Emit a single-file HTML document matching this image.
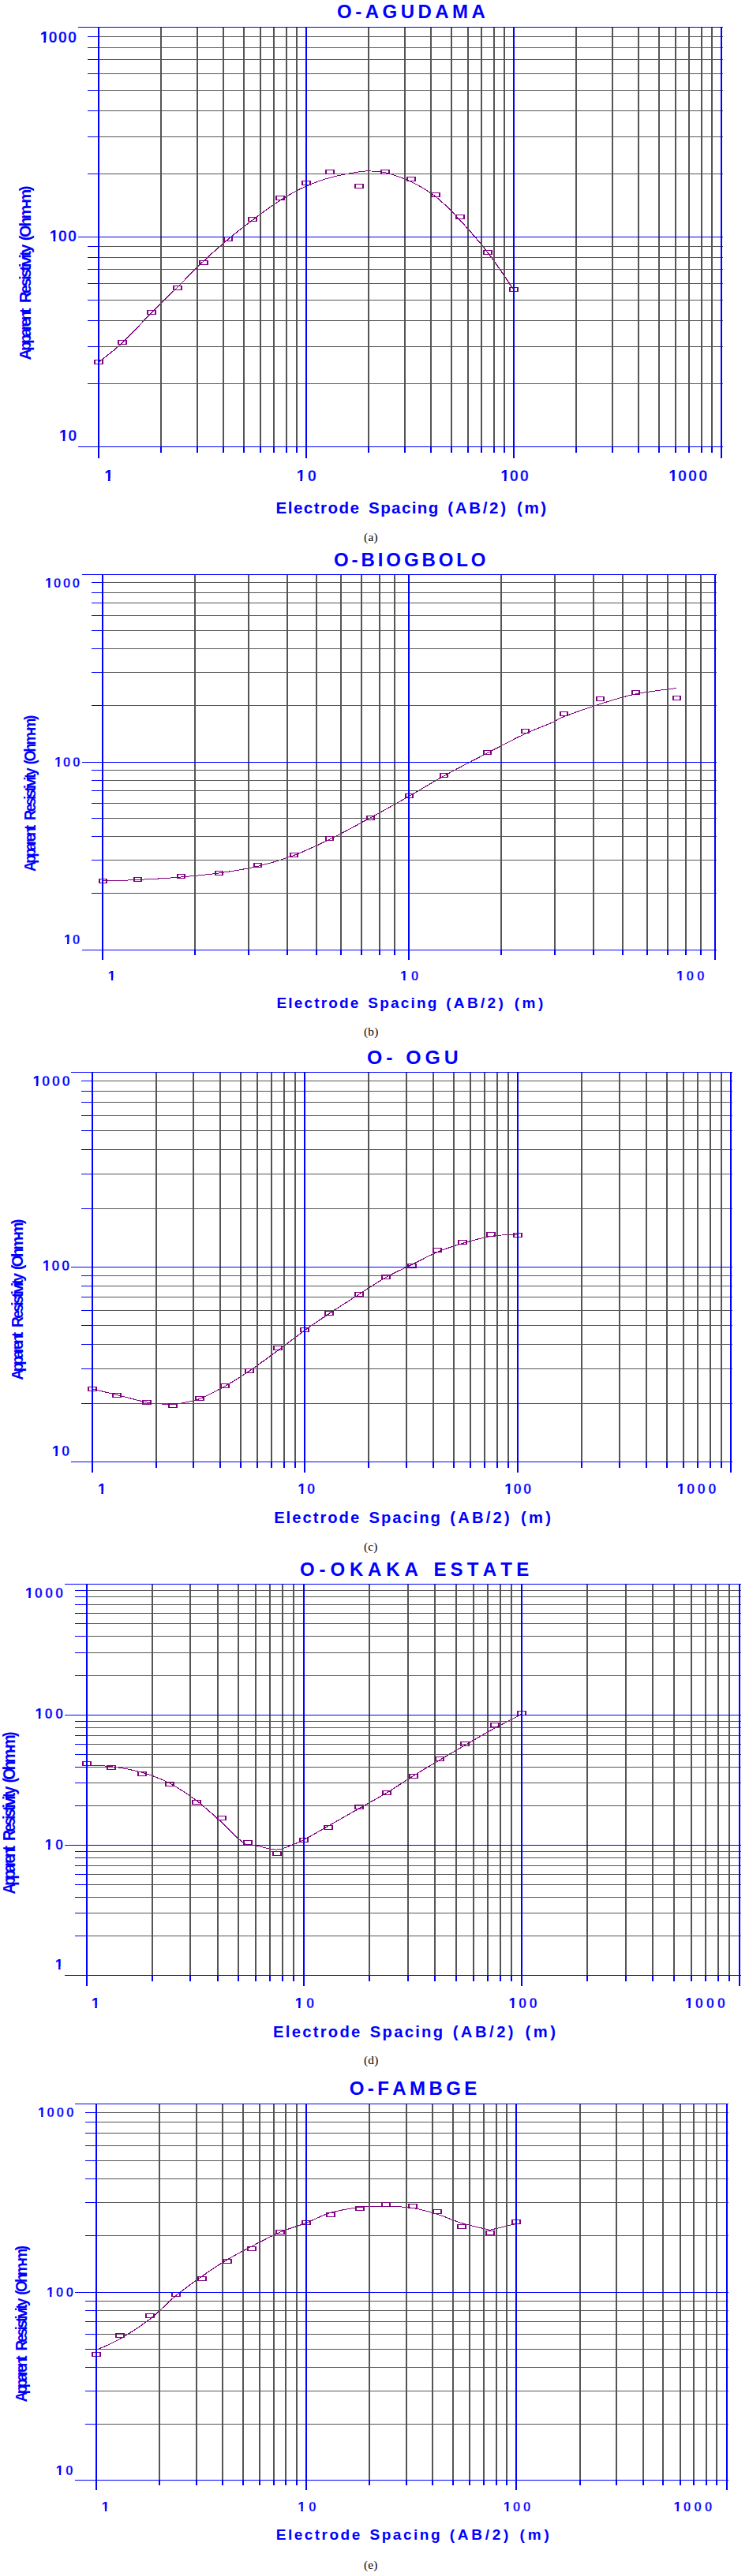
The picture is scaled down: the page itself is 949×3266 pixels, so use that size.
<!DOCTYPE html>
<html><head><meta charset="utf-8"><title>VES curves</title>
<style>
html,body{margin:0;padding:0;background:#fff}
svg{display:block}
text{font-kerning:none;white-space:pre}
.b{font-family:"Liberation Sans",Arial,sans-serif;font-weight:bold;fill:#0000ff}
.t{stroke:#fff;stroke-width:0.3px}
.o{stroke:#00f;stroke-width:0.05px}
.s{font-family:"Liberation Serif","Times New Roman",serif;fill:#000}
rect{shape-rendering:crispEdges}
</style></head><body>
<svg width="949" height="3266" viewBox="0 0 949 3266">
<rect x="0" y="0" width="949" height="3266" fill="#fff"/>
<g><path transform="scale(1.5 1)" d="M83.33 459.5C86.67 455.33 95.89 445 103.33 434.5C110.78 424 120.22 408.25 128 396.5C135.78 384.75 142.67 374.92 150 364C157.33 353.08 164.83 341.17 172 331C179.17 320.83 186.11 311.67 193 303C199.89 294.33 206.06 287.17 213.33 279C220.61 270.83 229.11 261.17 236.67 254C244.22 246.83 251.44 240.87 258.67 236C265.89 231.13 272.56 227.83 280 224.8C287.44 221.77 297.78 219.1 303.33 217.8C308.89 216.5 309.67 216.83 313.33 217C317 217.17 319.78 216.63 325.33 218.8C330.89 220.97 339.56 224.92 346.67 230C353.78 235.08 361.03 241.13 368 249.3C374.97 257.47 381.13 267.18 388.47 279C395.8 290.82 404.41 305.47 412 320.2C419.59 334.93 430.33 359.53 434 367.4" fill="none" stroke="#800080" stroke-width="1" shape-rendering="crispEdges"/>
<rect x="203" y="34" width="2" height="533" fill="#555555"/>
<rect x="203" y="567" width="2" height="7" fill="#0000ff"/>
<rect x="249" y="34" width="2" height="533" fill="#555555"/>
<rect x="249" y="567" width="2" height="7" fill="#0000ff"/>
<rect x="282" y="34" width="2" height="533" fill="#555555"/>
<rect x="282" y="567" width="2" height="7" fill="#0000ff"/>
<rect x="308" y="34" width="2" height="533" fill="#555555"/>
<rect x="308" y="567" width="2" height="7" fill="#0000ff"/>
<rect x="329" y="34" width="2" height="533" fill="#555555"/>
<rect x="329" y="567" width="2" height="7" fill="#0000ff"/>
<rect x="346" y="34" width="2" height="533" fill="#555555"/>
<rect x="346" y="567" width="2" height="7" fill="#0000ff"/>
<rect x="362" y="34" width="2" height="533" fill="#555555"/>
<rect x="362" y="567" width="2" height="7" fill="#0000ff"/>
<rect x="375" y="34" width="2" height="533" fill="#555555"/>
<rect x="375" y="567" width="2" height="7" fill="#0000ff"/>
<rect x="466" y="34" width="2" height="533" fill="#555555"/>
<rect x="466" y="567" width="2" height="7" fill="#0000ff"/>
<rect x="512" y="34" width="2" height="533" fill="#555555"/>
<rect x="512" y="567" width="2" height="7" fill="#0000ff"/>
<rect x="545" y="34" width="2" height="533" fill="#555555"/>
<rect x="545" y="567" width="2" height="7" fill="#0000ff"/>
<rect x="571" y="34" width="2" height="533" fill="#555555"/>
<rect x="571" y="567" width="2" height="7" fill="#0000ff"/>
<rect x="592" y="34" width="2" height="533" fill="#555555"/>
<rect x="592" y="567" width="2" height="7" fill="#0000ff"/>
<rect x="609" y="34" width="2" height="533" fill="#555555"/>
<rect x="609" y="567" width="2" height="7" fill="#0000ff"/>
<rect x="625" y="34" width="2" height="533" fill="#555555"/>
<rect x="625" y="567" width="2" height="7" fill="#0000ff"/>
<rect x="638" y="34" width="2" height="533" fill="#555555"/>
<rect x="638" y="567" width="2" height="7" fill="#0000ff"/>
<rect x="729" y="34" width="2" height="533" fill="#555555"/>
<rect x="729" y="567" width="2" height="7" fill="#0000ff"/>
<rect x="775" y="34" width="2" height="533" fill="#555555"/>
<rect x="775" y="567" width="2" height="7" fill="#0000ff"/>
<rect x="808" y="34" width="2" height="533" fill="#555555"/>
<rect x="808" y="567" width="2" height="7" fill="#0000ff"/>
<rect x="834" y="34" width="2" height="533" fill="#555555"/>
<rect x="834" y="567" width="2" height="7" fill="#0000ff"/>
<rect x="855" y="34" width="2" height="533" fill="#555555"/>
<rect x="855" y="567" width="2" height="7" fill="#0000ff"/>
<rect x="872" y="34" width="2" height="533" fill="#555555"/>
<rect x="872" y="567" width="2" height="7" fill="#0000ff"/>
<rect x="888" y="34" width="2" height="533" fill="#555555"/>
<rect x="888" y="567" width="2" height="7" fill="#0000ff"/>
<rect x="901" y="34" width="2" height="533" fill="#555555"/>
<rect x="901" y="567" width="2" height="7" fill="#0000ff"/>
<rect x="125" y="220" width="791" height="1" fill="#555555"/>
<rect x="111" y="220" width="14" height="1" fill="#0000ff"/>
<rect x="125" y="173" width="791" height="1" fill="#555555"/>
<rect x="111" y="173" width="14" height="1" fill="#0000ff"/>
<rect x="125" y="140" width="791" height="1" fill="#555555"/>
<rect x="111" y="140" width="14" height="1" fill="#0000ff"/>
<rect x="125" y="114" width="791" height="1" fill="#555555"/>
<rect x="111" y="114" width="14" height="1" fill="#0000ff"/>
<rect x="125" y="93" width="791" height="1" fill="#555555"/>
<rect x="111" y="93" width="14" height="1" fill="#0000ff"/>
<rect x="125" y="75" width="791" height="1" fill="#555555"/>
<rect x="111" y="75" width="14" height="1" fill="#0000ff"/>
<rect x="125" y="60" width="791" height="1" fill="#555555"/>
<rect x="111" y="60" width="14" height="1" fill="#0000ff"/>
<rect x="125" y="46" width="791" height="1" fill="#555555"/>
<rect x="111" y="46" width="14" height="1" fill="#0000ff"/>
<rect x="125" y="486" width="791" height="1" fill="#555555"/>
<rect x="111" y="486" width="14" height="1" fill="#0000ff"/>
<rect x="125" y="439" width="791" height="1" fill="#555555"/>
<rect x="111" y="439" width="14" height="1" fill="#0000ff"/>
<rect x="125" y="406" width="791" height="1" fill="#555555"/>
<rect x="111" y="406" width="14" height="1" fill="#0000ff"/>
<rect x="125" y="380" width="791" height="1" fill="#555555"/>
<rect x="111" y="380" width="14" height="1" fill="#0000ff"/>
<rect x="125" y="359" width="791" height="1" fill="#555555"/>
<rect x="111" y="359" width="14" height="1" fill="#0000ff"/>
<rect x="125" y="341" width="791" height="1" fill="#555555"/>
<rect x="111" y="341" width="14" height="1" fill="#0000ff"/>
<rect x="125" y="326" width="791" height="1" fill="#555555"/>
<rect x="111" y="326" width="14" height="1" fill="#0000ff"/>
<rect x="125" y="312" width="791" height="1" fill="#555555"/>
<rect x="111" y="312" width="14" height="1" fill="#0000ff"/>
<path d="M119 456h12v6h-12zM121 457v4h8v-4z" fill="#800080" fill-rule="evenodd" shape-rendering="crispEdges"/>
<path d="M149 431h12v6h-12zM151 432v4h8v-4z" fill="#800080" fill-rule="evenodd" shape-rendering="crispEdges"/>
<path d="M186 393h12v6h-12zM188 394v4h8v-4z" fill="#800080" fill-rule="evenodd" shape-rendering="crispEdges"/>
<path d="M219 362h12v6h-12zM221 363v4h8v-4z" fill="#800080" fill-rule="evenodd" shape-rendering="crispEdges"/>
<path d="M252 330h12v6h-12zM254 331v4h8v-4z" fill="#800080" fill-rule="evenodd" shape-rendering="crispEdges"/>
<path d="M283 300h12v6h-12zM285 301v4h8v-4z" fill="#800080" fill-rule="evenodd" shape-rendering="crispEdges"/>
<path d="M314 275h12v6h-12zM316 276v4h8v-4z" fill="#800080" fill-rule="evenodd" shape-rendering="crispEdges"/>
<path d="M349 248h12v6h-12zM351 249v4h8v-4z" fill="#800080" fill-rule="evenodd" shape-rendering="crispEdges"/>
<path d="M382 229h12v6h-12zM384 230v4h8v-4z" fill="#800080" fill-rule="evenodd" shape-rendering="crispEdges"/>
<path d="M412 215h12v6h-12zM414 216v4h8v-4z" fill="#800080" fill-rule="evenodd" shape-rendering="crispEdges"/>
<path d="M449 233h12v6h-12zM451 234v4h8v-4z" fill="#800080" fill-rule="evenodd" shape-rendering="crispEdges"/>
<path d="M482 215h12v6h-12zM484 216v4h8v-4z" fill="#800080" fill-rule="evenodd" shape-rendering="crispEdges"/>
<path d="M515 224h12v6h-12zM517 225v4h8v-4z" fill="#800080" fill-rule="evenodd" shape-rendering="crispEdges"/>
<path d="M546 244h12v6h-12zM548 245v4h8v-4z" fill="#800080" fill-rule="evenodd" shape-rendering="crispEdges"/>
<path d="M577 272h12v6h-12zM579 273v4h8v-4z" fill="#800080" fill-rule="evenodd" shape-rendering="crispEdges"/>
<path d="M612 317h12v6h-12zM614 318v4h8v-4z" fill="#800080" fill-rule="evenodd" shape-rendering="crispEdges"/>
<path d="M645 364h12v6h-12zM647 365v4h8v-4z" fill="#800080" fill-rule="evenodd" shape-rendering="crispEdges"/>
<rect x="99" y="34" width="817" height="1" fill="#0000ff"/>
<rect x="99" y="300" width="817" height="1" fill="#0000ff"/>
<rect x="99" y="566" width="817" height="1" fill="#0000ff"/>
<rect x="124" y="34" width="2" height="547" fill="#0000ff"/>
<rect x="387" y="34" width="2" height="547" fill="#0000ff"/>
<rect x="650" y="34" width="2" height="547" fill="#0000ff"/>
<rect x="913" y="34" width="2" height="547" fill="#0000ff"/>
<text class="b" x="427.02" y="23.4" font-size="24" letter-spacing="4.49">O-AGUDAMA</text>
<clipPath id="ka106"><path d="M47.27 34H100.3V57H62.2V50.66H58.04V57H55.3V50.66H47.27z"/></clipPath>
<text class="b" clip-path="url(#ka106)" x="49.27" y="54" dx="1.37 -1.37" font-size="20" letter-spacing="1.12"><tspan class="o">1</tspan><tspan class="t">000</tspan></text>
<clipPath id="ka108"><path d="M59.47 285.5H100.3V308.5H74.4V302.16H70.24V308.5H67.5V302.16H59.47z"/></clipPath>
<text class="b" clip-path="url(#ka108)" x="61.47" y="305.5" dx="1.37 -1.37" font-size="20" letter-spacing="1.14"><tspan class="o">1</tspan><tspan class="t">00</tspan></text>
<clipPath id="ka110"><path d="M71.57 538.7H100.6V561.7H86.54V555.36H82.34V561.7H79.6V555.36H71.57z"/></clipPath>
<text class="b" clip-path="url(#ka110)" x="73.57" y="558.7" dx="1.37 -1.37" font-size="20" letter-spacing="1.61"><tspan class="o">1</tspan><tspan class="t">0</tspan></text>
<clipPath id="ka112"><path d="M128.87 590H144.6V613H143.8V606.66H139.64V613H136.9V606.66H128.87z"/></clipPath>
<text class="b" clip-path="url(#ka112)" x="130.87" y="610" dx="1.37" font-size="20" letter-spacing="0"><tspan class="o">1</tspan></text>
<clipPath id="ka114"><path d="M372.27 590H404V613H389V606.66H383.04V613H380.3V606.66H372.27z"/></clipPath>
<text class="b" clip-path="url(#ka114)" x="374.27" y="610" dx="1.37 -1.37" font-size="20" letter-spacing="4.31"><tspan class="o">1</tspan><tspan class="t">0</tspan></text>
<clipPath id="ka116"><path d="M630.77 590H673V613H645.9V606.66H641.54V613H638.8V606.66H630.77z"/></clipPath>
<text class="b" clip-path="url(#ka116)" x="632.77" y="610" dx="1.37 -1.37" font-size="20" letter-spacing="1.84"><tspan class="o">1</tspan><tspan class="t">00</tspan></text>
<clipPath id="ka118"><path d="M843.87 590H899.5V613H859.09V606.66H854.64V613H851.9V606.66H843.87z"/></clipPath>
<text class="b" clip-path="url(#ka118)" x="845.87" y="610" dx="1.37 -1.37" font-size="20" letter-spacing="1.99"><tspan class="o">1</tspan><tspan class="t">000</tspan></text>
<text class="b" x="349.62" y="650.5" font-size="20.6" letter-spacing="1.45">Electrode</text>
<text class="b" x="467.09" y="650.5" font-size="20.6" letter-spacing="1.36">Spacing</text>
<text class="b" x="567.26" y="650.5" font-size="20.6" letter-spacing="2.62">(AB/2)</text>
<text class="b" x="654.98" y="650.5" font-size="20.6" letter-spacing="2.56">(m)</text>
<text class="s" x="461.03" y="685.8" font-size="15.3" letter-spacing="0.28">(a)</text>
<text class="b" transform="translate(38.8 455.9) rotate(-90) scale(0.96 1)" x="-0.52" y="0" font-size="21" letter-spacing="-3.36">Apparent</text>
<text class="b" transform="translate(38.8 455.9) rotate(-90) scale(0.96 1)" x="74.85" y="0" font-size="21" letter-spacing="-2.74">Resistivity</text>
<text class="b" transform="translate(38.8 455.9) rotate(-90) scale(0.96 1)" x="156.95" y="0" font-size="21" letter-spacing="-2.46">(Ohm-m)</text></g>
<g><path transform="scale(1.5 1)" d="M86.67 1117C91.56 1116.75 105 1116.33 116 1115.5C127 1114.67 141.22 1113.42 152.67 1112C164.11 1110.58 173.89 1109.25 184.67 1107C195.44 1104.75 206.89 1102.17 217.33 1098.5C227.78 1094.83 237.22 1090.67 247.33 1085C257.44 1079.33 267.11 1072.5 278 1064.5C288.89 1056.5 301.5 1046.08 312.67 1037C323.83 1027.92 334.67 1018.83 345 1010C355.33 1001.17 363.61 993.17 374.67 984C385.72 974.83 399.89 963.92 411.33 955C422.78 946.08 434.11 937 443.33 930.5C452.56 924 461.28 919.58 466.67 916C472.06 912.42 469.11 912.83 475.67 909C482.22 905.17 495.83 897.83 506 893C516.17 888.17 525.74 883.42 536.67 880C547.59 876.58 565.72 873.75 571.53 872.5" fill="none" stroke="#800080" stroke-width="1" shape-rendering="crispEdges"/>
<rect x="246" y="728" width="2" height="477" fill="#555555"/>
<rect x="246" y="1205" width="2" height="5.5" fill="#0000ff"/>
<rect x="314" y="728" width="2" height="477" fill="#555555"/>
<rect x="314" y="1205" width="2" height="5.5" fill="#0000ff"/>
<rect x="363" y="728" width="2" height="477" fill="#555555"/>
<rect x="363" y="1205" width="2" height="5.5" fill="#0000ff"/>
<rect x="400" y="728" width="2" height="477" fill="#555555"/>
<rect x="400" y="1205" width="2" height="5.5" fill="#0000ff"/>
<rect x="431" y="728" width="2" height="477" fill="#555555"/>
<rect x="431" y="1205" width="2" height="5.5" fill="#0000ff"/>
<rect x="457" y="728" width="2" height="477" fill="#555555"/>
<rect x="457" y="1205" width="2" height="5.5" fill="#0000ff"/>
<rect x="480" y="728" width="2" height="477" fill="#555555"/>
<rect x="480" y="1205" width="2" height="5.5" fill="#0000ff"/>
<rect x="499" y="728" width="2" height="477" fill="#555555"/>
<rect x="499" y="1205" width="2" height="5.5" fill="#0000ff"/>
<rect x="634" y="728" width="2" height="477" fill="#555555"/>
<rect x="634" y="1205" width="2" height="5.5" fill="#0000ff"/>
<rect x="702" y="728" width="2" height="477" fill="#555555"/>
<rect x="702" y="1205" width="2" height="5.5" fill="#0000ff"/>
<rect x="751" y="728" width="2" height="477" fill="#555555"/>
<rect x="751" y="1205" width="2" height="5.5" fill="#0000ff"/>
<rect x="788" y="728" width="2" height="477" fill="#555555"/>
<rect x="788" y="1205" width="2" height="5.5" fill="#0000ff"/>
<rect x="819" y="728" width="2" height="477" fill="#555555"/>
<rect x="819" y="1205" width="2" height="5.5" fill="#0000ff"/>
<rect x="845" y="728" width="2" height="477" fill="#555555"/>
<rect x="845" y="1205" width="2" height="5.5" fill="#0000ff"/>
<rect x="868" y="728" width="2" height="477" fill="#555555"/>
<rect x="868" y="1205" width="2" height="5.5" fill="#0000ff"/>
<rect x="887" y="728" width="2" height="477" fill="#555555"/>
<rect x="887" y="1205" width="2" height="5.5" fill="#0000ff"/>
<rect x="130" y="894" width="778" height="1" fill="#555555"/>
<rect x="116" y="894" width="14" height="1" fill="#0000ff"/>
<rect x="130" y="852" width="778" height="1" fill="#555555"/>
<rect x="116" y="852" width="14" height="1" fill="#0000ff"/>
<rect x="130" y="822" width="778" height="1" fill="#555555"/>
<rect x="116" y="822" width="14" height="1" fill="#0000ff"/>
<rect x="130" y="799" width="778" height="1" fill="#555555"/>
<rect x="116" y="799" width="14" height="1" fill="#0000ff"/>
<rect x="130" y="780" width="778" height="1" fill="#555555"/>
<rect x="116" y="780" width="14" height="1" fill="#0000ff"/>
<rect x="130" y="764" width="778" height="1" fill="#555555"/>
<rect x="116" y="764" width="14" height="1" fill="#0000ff"/>
<rect x="130" y="751" width="778" height="1" fill="#555555"/>
<rect x="116" y="751" width="14" height="1" fill="#0000ff"/>
<rect x="130" y="738" width="778" height="1" fill="#555555"/>
<rect x="116" y="738" width="14" height="1" fill="#0000ff"/>
<rect x="130" y="1132" width="778" height="1" fill="#555555"/>
<rect x="116" y="1132" width="14" height="1" fill="#0000ff"/>
<rect x="130" y="1090" width="778" height="1" fill="#555555"/>
<rect x="116" y="1090" width="14" height="1" fill="#0000ff"/>
<rect x="130" y="1060" width="778" height="1" fill="#555555"/>
<rect x="116" y="1060" width="14" height="1" fill="#0000ff"/>
<rect x="130" y="1037" width="778" height="1" fill="#555555"/>
<rect x="116" y="1037" width="14" height="1" fill="#0000ff"/>
<rect x="130" y="1018" width="778" height="1" fill="#555555"/>
<rect x="116" y="1018" width="14" height="1" fill="#0000ff"/>
<rect x="130" y="1002" width="778" height="1" fill="#555555"/>
<rect x="116" y="1002" width="14" height="1" fill="#0000ff"/>
<rect x="130" y="989" width="778" height="1" fill="#555555"/>
<rect x="116" y="989" width="14" height="1" fill="#0000ff"/>
<rect x="130" y="976" width="778" height="1" fill="#555555"/>
<rect x="116" y="976" width="14" height="1" fill="#0000ff"/>
<path d="M125 1114h11v6h-11zM127 1115v4h7v-4z" fill="#800080" fill-rule="evenodd" shape-rendering="crispEdges"/>
<path d="M169 1112h11v6h-11zM171 1113v4h7v-4z" fill="#800080" fill-rule="evenodd" shape-rendering="crispEdges"/>
<path d="M224 1108h11v6h-11zM226 1109v4h7v-4z" fill="#800080" fill-rule="evenodd" shape-rendering="crispEdges"/>
<path d="M272 1104h11v6h-11zM274 1105v4h7v-4z" fill="#800080" fill-rule="evenodd" shape-rendering="crispEdges"/>
<path d="M321 1094h11v6h-11zM323 1095v4h7v-4z" fill="#800080" fill-rule="evenodd" shape-rendering="crispEdges"/>
<path d="M367 1081h11v6h-11zM369 1082v4h7v-4z" fill="#800080" fill-rule="evenodd" shape-rendering="crispEdges"/>
<path d="M412 1060h11v6h-11zM414 1061v4h7v-4z" fill="#800080" fill-rule="evenodd" shape-rendering="crispEdges"/>
<path d="M464 1034h11v6h-11zM466 1035v4h7v-4z" fill="#800080" fill-rule="evenodd" shape-rendering="crispEdges"/>
<path d="M513 1006h11v6h-11zM515 1007v4h7v-4z" fill="#800080" fill-rule="evenodd" shape-rendering="crispEdges"/>
<path d="M557 980h11v6h-11zM559 981v4h7v-4z" fill="#800080" fill-rule="evenodd" shape-rendering="crispEdges"/>
<path d="M612 951h11v6h-11zM614 952v4h7v-4z" fill="#800080" fill-rule="evenodd" shape-rendering="crispEdges"/>
<path d="M660 924h11v6h-11zM662 925v4h7v-4z" fill="#800080" fill-rule="evenodd" shape-rendering="crispEdges"/>
<path d="M709 902h11v6h-11zM711 903v4h7v-4z" fill="#800080" fill-rule="evenodd" shape-rendering="crispEdges"/>
<path d="M755 883h11v6h-11zM757 884v4h7v-4z" fill="#800080" fill-rule="evenodd" shape-rendering="crispEdges"/>
<path d="M800 875h11v6h-11zM802 876v4h7v-4z" fill="#800080" fill-rule="evenodd" shape-rendering="crispEdges"/>
<path d="M852 882h11v6h-11zM854 883v4h7v-4z" fill="#800080" fill-rule="evenodd" shape-rendering="crispEdges"/>
<rect x="104" y="728" width="804" height="1" fill="#0000ff"/>
<rect x="104" y="966" width="804" height="1" fill="#0000ff"/>
<rect x="104" y="1204" width="804" height="1" fill="#0000ff"/>
<rect x="129" y="728" width="2" height="488.5" fill="#0000ff"/>
<rect x="517" y="728" width="2" height="488.5" fill="#0000ff"/>
<rect x="905" y="728" width="2" height="488.5" fill="#0000ff"/>
<text class="b" x="423.02" y="718" font-size="24" letter-spacing="3.91">O-BIOGBOLO</text>
<clipPath id="kb88"><path d="M53.92 727.9H104.6V748.3H67.75V742.22H63.56V748.3H61.17V742.22H53.92z"/></clipPath>
<text class="b" clip-path="url(#kb88)" x="55.92" y="745.3" dx="1.19 -1.19" font-size="17.4" letter-spacing="2.23"><tspan class="o">1</tspan><tspan class="t">000</tspan></text>
<clipPath id="kb90"><path d="M65.72 954.4H104.9V974.8H79.68V968.72H75.36V974.8H72.97V968.72H65.72z"/></clipPath>
<text class="b" clip-path="url(#kb90)" x="67.72" y="971.8" dx="1.19 -1.19" font-size="17.4" letter-spacing="2.43"><tspan class="o">1</tspan><tspan class="t">00</tspan></text>
<clipPath id="kb92"><path d="M77.72 1179.4H104.6V1199.8H91.56V1193.72H87.36V1199.8H84.97V1193.72H77.72z"/></clipPath>
<text class="b" clip-path="url(#kb92)" x="79.72" y="1196.8" dx="1.19 -1.19" font-size="17.4" letter-spacing="2.24"><tspan class="o">1</tspan><tspan class="t">0</tspan></text>
<clipPath id="kb94"><path d="M133.62 1225.6H148V1246H147V1239.92H143.26V1246H140.87V1239.92H133.62z"/></clipPath>
<text class="b" clip-path="url(#kb94)" x="135.62" y="1243" dx="1.19" font-size="17.4" letter-spacing="0"><tspan class="o">1</tspan></text>
<clipPath id="kb96"><path d="M503.92 1225.6H533.6V1246H519.58V1239.92H513.56V1246H511.17V1239.92H503.92z"/></clipPath>
<text class="b" clip-path="url(#kb96)" x="505.92" y="1243" dx="1.19 -1.19" font-size="17.4" letter-spacing="5.04"><tspan class="o">1</tspan><tspan class="t">0</tspan></text>
<clipPath id="kb98"><path d="M853.92 1225.6H895.9V1246H868.79V1239.92H863.56V1246H861.17V1239.92H853.92z"/></clipPath>
<text class="b" clip-path="url(#kb98)" x="855.92" y="1243" dx="1.19 -1.19" font-size="17.4" letter-spacing="3.83"><tspan class="o">1</tspan><tspan class="t">00</tspan></text>
<text class="b" x="350.43" y="1278.3" font-size="19" letter-spacing="2.17">Electrode</text>
<text class="b" x="466.3" y="1278.3" font-size="19" letter-spacing="2.18">Spacing</text>
<text class="b" x="565.17" y="1278.3" font-size="19" letter-spacing="3.34">(AB/2)</text>
<text class="b" x="651.72" y="1278.3" font-size="19" letter-spacing="3.49">(m)</text>
<text class="s" x="461.03" y="1313.2" font-size="15.3" letter-spacing="0.25">(b)</text>
<text class="b" transform="translate(45.1 1104.5) rotate(-90) scale(0.9 1)" x="-0.51" y="0" font-size="20.4" letter-spacing="-3.4">Apparent</text>
<text class="b" transform="translate(45.1 1104.5) rotate(-90) scale(0.9 1)" x="71.63" y="0" font-size="20.4" letter-spacing="-2.77">Resistivity</text>
<text class="b" transform="translate(45.1 1104.5) rotate(-90) scale(0.9 1)" x="150.24" y="0" font-size="20.4" letter-spacing="-2.55">(Ohm-m)</text></g>
<g><path transform="scale(1.5 1)" d="M78 1761C81.44 1762.25 91 1765.67 98.67 1768.5C106.33 1771.33 117.67 1776.08 124 1778C130.33 1779.92 132.89 1779.62 136.67 1780C140.44 1780.38 143.33 1780.63 146.67 1780.3C150 1779.97 153 1779.13 156.67 1778C160.33 1776.87 163.11 1776.92 168.67 1773.5C174.22 1770.08 182.89 1763.5 190 1757.5C197.11 1751.5 203.78 1745.17 211.33 1737.5C218.89 1729.83 227.62 1720 235.33 1711.5C243.04 1703 250.49 1694.17 257.6 1686.5C264.71 1678.83 270.38 1673.08 278 1665.5C285.62 1657.92 295.33 1648.67 303.33 1641C311.33 1633.33 318.49 1625.83 326 1619.5C333.51 1613.17 341.16 1608.35 348.4 1603C355.64 1597.65 362.48 1591.8 369.47 1587.4C376.46 1583 382.8 1579.93 390.33 1576.6C397.87 1573.27 406.83 1569.33 414.67 1567.4C422.5 1565.47 433.56 1565.4 437.33 1565" fill="none" stroke="#800080" stroke-width="1" shape-rendering="crispEdges"/>
<rect x="197" y="1359" width="2" height="495" fill="#555555"/>
<rect x="197" y="1854" width="2" height="7" fill="#0000ff"/>
<rect x="244" y="1359" width="2" height="495" fill="#555555"/>
<rect x="244" y="1854" width="2" height="7" fill="#0000ff"/>
<rect x="278" y="1359" width="2" height="495" fill="#555555"/>
<rect x="278" y="1854" width="2" height="7" fill="#0000ff"/>
<rect x="304" y="1359" width="2" height="495" fill="#555555"/>
<rect x="304" y="1854" width="2" height="7" fill="#0000ff"/>
<rect x="325" y="1359" width="2" height="495" fill="#555555"/>
<rect x="325" y="1854" width="2" height="7" fill="#0000ff"/>
<rect x="343" y="1359" width="2" height="495" fill="#555555"/>
<rect x="343" y="1854" width="2" height="7" fill="#0000ff"/>
<rect x="359" y="1359" width="2" height="495" fill="#555555"/>
<rect x="359" y="1854" width="2" height="7" fill="#0000ff"/>
<rect x="373" y="1359" width="2" height="495" fill="#555555"/>
<rect x="373" y="1854" width="2" height="7" fill="#0000ff"/>
<rect x="466" y="1359" width="2" height="495" fill="#555555"/>
<rect x="466" y="1854" width="2" height="7" fill="#0000ff"/>
<rect x="514" y="1359" width="2" height="495" fill="#555555"/>
<rect x="514" y="1854" width="2" height="7" fill="#0000ff"/>
<rect x="548" y="1359" width="2" height="495" fill="#555555"/>
<rect x="548" y="1854" width="2" height="7" fill="#0000ff"/>
<rect x="574" y="1359" width="2" height="495" fill="#555555"/>
<rect x="574" y="1854" width="2" height="7" fill="#0000ff"/>
<rect x="595" y="1359" width="2" height="495" fill="#555555"/>
<rect x="595" y="1854" width="2" height="7" fill="#0000ff"/>
<rect x="613" y="1359" width="2" height="495" fill="#555555"/>
<rect x="613" y="1854" width="2" height="7" fill="#0000ff"/>
<rect x="629" y="1359" width="2" height="495" fill="#555555"/>
<rect x="629" y="1854" width="2" height="7" fill="#0000ff"/>
<rect x="643" y="1359" width="2" height="495" fill="#555555"/>
<rect x="643" y="1854" width="2" height="7" fill="#0000ff"/>
<rect x="736" y="1359" width="2" height="495" fill="#555555"/>
<rect x="736" y="1854" width="2" height="7" fill="#0000ff"/>
<rect x="784" y="1359" width="2" height="495" fill="#555555"/>
<rect x="784" y="1854" width="2" height="7" fill="#0000ff"/>
<rect x="818" y="1359" width="2" height="495" fill="#555555"/>
<rect x="818" y="1854" width="2" height="7" fill="#0000ff"/>
<rect x="844" y="1359" width="2" height="495" fill="#555555"/>
<rect x="844" y="1854" width="2" height="7" fill="#0000ff"/>
<rect x="865" y="1359" width="2" height="495" fill="#555555"/>
<rect x="865" y="1854" width="2" height="7" fill="#0000ff"/>
<rect x="883" y="1359" width="2" height="495" fill="#555555"/>
<rect x="883" y="1854" width="2" height="7" fill="#0000ff"/>
<rect x="899" y="1359" width="2" height="495" fill="#555555"/>
<rect x="899" y="1854" width="2" height="7" fill="#0000ff"/>
<rect x="913" y="1359" width="2" height="495" fill="#555555"/>
<rect x="913" y="1854" width="2" height="7" fill="#0000ff"/>
<rect x="117" y="1532" width="811" height="1" fill="#555555"/>
<rect x="103" y="1532" width="14" height="1" fill="#0000ff"/>
<rect x="117" y="1488" width="811" height="1" fill="#555555"/>
<rect x="103" y="1488" width="14" height="1" fill="#0000ff"/>
<rect x="117" y="1457" width="811" height="1" fill="#555555"/>
<rect x="103" y="1457" width="14" height="1" fill="#0000ff"/>
<rect x="117" y="1433" width="811" height="1" fill="#555555"/>
<rect x="103" y="1433" width="14" height="1" fill="#0000ff"/>
<rect x="117" y="1414" width="811" height="1" fill="#555555"/>
<rect x="103" y="1414" width="14" height="1" fill="#0000ff"/>
<rect x="117" y="1397" width="811" height="1" fill="#555555"/>
<rect x="103" y="1397" width="14" height="1" fill="#0000ff"/>
<rect x="117" y="1383" width="811" height="1" fill="#555555"/>
<rect x="103" y="1383" width="14" height="1" fill="#0000ff"/>
<rect x="117" y="1370" width="811" height="1" fill="#555555"/>
<rect x="103" y="1370" width="14" height="1" fill="#0000ff"/>
<rect x="117" y="1779" width="811" height="1" fill="#555555"/>
<rect x="103" y="1779" width="14" height="1" fill="#0000ff"/>
<rect x="117" y="1735" width="811" height="1" fill="#555555"/>
<rect x="103" y="1735" width="14" height="1" fill="#0000ff"/>
<rect x="117" y="1704" width="811" height="1" fill="#555555"/>
<rect x="103" y="1704" width="14" height="1" fill="#0000ff"/>
<rect x="117" y="1680" width="811" height="1" fill="#555555"/>
<rect x="103" y="1680" width="14" height="1" fill="#0000ff"/>
<rect x="117" y="1661" width="811" height="1" fill="#555555"/>
<rect x="103" y="1661" width="14" height="1" fill="#0000ff"/>
<rect x="117" y="1644" width="811" height="1" fill="#555555"/>
<rect x="103" y="1644" width="14" height="1" fill="#0000ff"/>
<rect x="117" y="1630" width="811" height="1" fill="#555555"/>
<rect x="103" y="1630" width="14" height="1" fill="#0000ff"/>
<rect x="117" y="1617" width="811" height="1" fill="#555555"/>
<rect x="103" y="1617" width="14" height="1" fill="#0000ff"/>
<path d="M111 1758h12v6h-12zM113 1759v4h8v-4z" fill="#800080" fill-rule="evenodd" shape-rendering="crispEdges"/>
<path d="M142 1766h12v6h-12zM144 1767v4h8v-4z" fill="#800080" fill-rule="evenodd" shape-rendering="crispEdges"/>
<path d="M180 1775h12v6h-12zM182 1776v4h8v-4z" fill="#800080" fill-rule="evenodd" shape-rendering="crispEdges"/>
<path d="M213 1779h12v6h-12zM215 1780v4h8v-4z" fill="#800080" fill-rule="evenodd" shape-rendering="crispEdges"/>
<path d="M247 1770h12v6h-12zM249 1771v4h8v-4z" fill="#800080" fill-rule="evenodd" shape-rendering="crispEdges"/>
<path d="M279 1754h12v6h-12zM281 1755v4h8v-4z" fill="#800080" fill-rule="evenodd" shape-rendering="crispEdges"/>
<path d="M310 1735h12v6h-12zM312 1736v4h8v-4z" fill="#800080" fill-rule="evenodd" shape-rendering="crispEdges"/>
<path d="M346 1706h12v6h-12zM348 1707v4h8v-4z" fill="#800080" fill-rule="evenodd" shape-rendering="crispEdges"/>
<path d="M380 1683h12v6h-12zM382 1684v4h8v-4z" fill="#800080" fill-rule="evenodd" shape-rendering="crispEdges"/>
<path d="M411 1662h12v6h-12zM413 1663v4h8v-4z" fill="#800080" fill-rule="evenodd" shape-rendering="crispEdges"/>
<path d="M449 1638h12v6h-12zM451 1639v4h8v-4z" fill="#800080" fill-rule="evenodd" shape-rendering="crispEdges"/>
<path d="M483 1616h12v6h-12zM485 1617v4h8v-4z" fill="#800080" fill-rule="evenodd" shape-rendering="crispEdges"/>
<path d="M516 1602h12v6h-12zM518 1603v4h8v-4z" fill="#800080" fill-rule="evenodd" shape-rendering="crispEdges"/>
<path d="M548 1582h12v6h-12zM550 1583v4h8v-4z" fill="#800080" fill-rule="evenodd" shape-rendering="crispEdges"/>
<path d="M580 1572h12v6h-12zM582 1573v4h8v-4z" fill="#800080" fill-rule="evenodd" shape-rendering="crispEdges"/>
<path d="M616 1562h12v6h-12zM618 1563v4h8v-4z" fill="#800080" fill-rule="evenodd" shape-rendering="crispEdges"/>
<path d="M650 1563h12v6h-12zM652 1564v4h8v-4z" fill="#800080" fill-rule="evenodd" shape-rendering="crispEdges"/>
<rect x="90" y="1359" width="838" height="1" fill="#0000ff"/>
<rect x="90" y="1606" width="838" height="1" fill="#0000ff"/>
<rect x="90" y="1853" width="838" height="1" fill="#0000ff"/>
<rect x="116" y="1359" width="2" height="508" fill="#0000ff"/>
<rect x="385" y="1359" width="2" height="508" fill="#0000ff"/>
<rect x="655" y="1359" width="2" height="508" fill="#0000ff"/>
<rect x="925" y="1359" width="2" height="508" fill="#0000ff"/>
<text class="b" x="465.08" y="1348.5" font-size="24.8" letter-spacing="4.92">O- OGU</text>
<clipPath id="kc106"><path d="M38.16 1358.5H92V1380.1H52.82V1373.9H48.32V1380.1H45.77V1373.9H38.16z"/></clipPath>
<text class="b" clip-path="url(#kc106)" x="40.16" y="1377.1" dx="1.27 -1.27" font-size="18.6" letter-spacing="2.41"><tspan class="o">1</tspan><tspan class="t">000</tspan></text>
<clipPath id="kc108"><path d="M50.56 1592.5H91.5V1614.1H65.17V1607.9H60.72V1614.1H58.17V1607.9H50.56z"/></clipPath>
<text class="b" clip-path="url(#kc108)" x="52.56" y="1611.1" dx="1.27 -1.27" font-size="18.6" letter-spacing="2.34"><tspan class="o">1</tspan><tspan class="t">00</tspan></text>
<clipPath id="kc110"><path d="M62.66 1827.4H91.5V1849H77.65V1842.8H72.82V1849H70.27V1842.8H62.66z"/></clipPath>
<text class="b" clip-path="url(#kc110)" x="64.66" y="1846" dx="1.27 -1.27" font-size="18.6" letter-spacing="2.92"><tspan class="o">1</tspan><tspan class="t">0</tspan></text>
<clipPath id="kc112"><path d="M120.76 1875.1H137V1896.7H134.86V1890.5H130.92V1896.7H128.37V1890.5H120.76z"/></clipPath>
<text class="b" clip-path="url(#kc112)" x="122.76" y="1893.7" dx="1.27" font-size="18.6" letter-spacing="0"><tspan class="o">1</tspan></text>
<clipPath id="kc114"><path d="M373.96 1875.1H402.6V1896.7H388.82V1890.5H384.12V1896.7H381.57V1890.5H373.96z"/></clipPath>
<text class="b" clip-path="url(#kc114)" x="375.96" y="1893.7" dx="1.27 -1.27" font-size="18.6" letter-spacing="2.72"><tspan class="o">1</tspan><tspan class="t">0</tspan></text>
<clipPath id="kc116"><path d="M635.86 1875.1H676.6V1896.7H650.41V1890.5H646.02V1896.7H643.47V1890.5H635.86z"/></clipPath>
<text class="b" clip-path="url(#kc116)" x="637.86" y="1893.7" dx="1.27 -1.27" font-size="18.6" letter-spacing="2.24"><tspan class="o">1</tspan><tspan class="t">00</tspan></text>
<clipPath id="kc118"><path d="M854.36 1875.1H910.8V1896.7H869.58V1890.5H864.52V1896.7H861.97V1890.5H854.36z"/></clipPath>
<text class="b" clip-path="url(#kc118)" x="856.36" y="1893.7" dx="1.27 -1.27" font-size="18.6" letter-spacing="3.28"><tspan class="o">1</tspan><tspan class="t">000</tspan></text>
<text class="b" x="347.15" y="1930.6" font-size="20.2" letter-spacing="2">Electrode</text>
<text class="b" x="467.52" y="1930.6" font-size="20.2" letter-spacing="1.97">Spacing</text>
<text class="b" x="570.21" y="1930.6" font-size="20.2" letter-spacing="3.2">(AB/2)</text>
<text class="b" x="660.12" y="1930.6" font-size="20.2" letter-spacing="3.29">(m)</text>
<text class="s" x="461.03" y="1966.35" font-size="15.3" letter-spacing="0.18">(c)</text>
<text class="b" transform="translate(28.8 1749.3) rotate(-90) scale(0.92 1)" x="-0.52" y="0" font-size="21" letter-spacing="-3.7">Apparent</text>
<text class="b" transform="translate(28.8 1749.3) rotate(-90) scale(0.92 1)" x="72.15" y="0" font-size="21" letter-spacing="-3.01">Resistivity</text>
<text class="b" transform="translate(28.8 1749.3) rotate(-90) scale(0.92 1)" x="151.35" y="0" font-size="21" letter-spacing="-2.87">(Ohm-m)</text></g>
<g><path transform="scale(1.5 1)" d="M73.33 2238.3C76.78 2238.53 86.17 2238.18 94 2239.7C101.83 2241.22 112.11 2243.85 120.33 2247.4C128.56 2250.95 135.72 2255.07 143.33 2261C150.94 2266.93 158.97 2275.13 166 2283C173.03 2290.87 178.94 2299.32 185.53 2308.2C192.12 2317.08 200.42 2331.02 205.53 2336.3C210.64 2341.58 211.53 2338.43 216.2 2339.9C220.87 2341.37 228.41 2345.25 233.53 2345.1C238.66 2344.95 243.06 2341.1 246.93 2339C250.81 2336.9 251.62 2336.58 256.8 2332.5C261.98 2328.42 270.13 2321.2 278 2314.5C285.87 2307.8 295.89 2299.22 304 2292.3C312.11 2285.38 319.04 2279.88 326.67 2273C334.29 2266.12 342.18 2258 349.73 2251C357.29 2244 364.73 2237.48 372 2231C379.27 2224.52 385.67 2218.77 393.33 2212.1C401 2205.43 410.11 2197.47 418 2191C425.89 2184.53 436.89 2176.25 440.67 2173.3" fill="none" stroke="#800080" stroke-width="1" shape-rendering="crispEdges"/>
<rect x="192" y="2008" width="2" height="497" fill="#555555"/>
<rect x="192" y="2505" width="2" height="6.5" fill="#0000ff"/>
<rect x="240" y="2008" width="2" height="497" fill="#555555"/>
<rect x="240" y="2505" width="2" height="6.5" fill="#0000ff"/>
<rect x="275" y="2008" width="2" height="497" fill="#555555"/>
<rect x="275" y="2505" width="2" height="6.5" fill="#0000ff"/>
<rect x="301" y="2008" width="2" height="497" fill="#555555"/>
<rect x="301" y="2505" width="2" height="6.5" fill="#0000ff"/>
<rect x="323" y="2008" width="2" height="497" fill="#555555"/>
<rect x="323" y="2505" width="2" height="6.5" fill="#0000ff"/>
<rect x="341" y="2008" width="2" height="497" fill="#555555"/>
<rect x="341" y="2505" width="2" height="6.5" fill="#0000ff"/>
<rect x="357" y="2008" width="2" height="497" fill="#555555"/>
<rect x="357" y="2505" width="2" height="6.5" fill="#0000ff"/>
<rect x="371" y="2008" width="2" height="497" fill="#555555"/>
<rect x="371" y="2505" width="2" height="6.5" fill="#0000ff"/>
<rect x="467" y="2008" width="2" height="497" fill="#555555"/>
<rect x="467" y="2505" width="2" height="6.5" fill="#0000ff"/>
<rect x="516" y="2008" width="2" height="497" fill="#555555"/>
<rect x="516" y="2505" width="2" height="6.5" fill="#0000ff"/>
<rect x="550" y="2008" width="2" height="497" fill="#555555"/>
<rect x="550" y="2505" width="2" height="6.5" fill="#0000ff"/>
<rect x="577" y="2008" width="2" height="497" fill="#555555"/>
<rect x="577" y="2505" width="2" height="6.5" fill="#0000ff"/>
<rect x="599" y="2008" width="2" height="497" fill="#555555"/>
<rect x="599" y="2505" width="2" height="6.5" fill="#0000ff"/>
<rect x="617" y="2008" width="2" height="497" fill="#555555"/>
<rect x="617" y="2505" width="2" height="6.5" fill="#0000ff"/>
<rect x="633" y="2008" width="2" height="497" fill="#555555"/>
<rect x="633" y="2505" width="2" height="6.5" fill="#0000ff"/>
<rect x="647" y="2008" width="2" height="497" fill="#555555"/>
<rect x="647" y="2505" width="2" height="6.5" fill="#0000ff"/>
<rect x="743" y="2008" width="2" height="497" fill="#555555"/>
<rect x="743" y="2505" width="2" height="6.5" fill="#0000ff"/>
<rect x="792" y="2008" width="2" height="497" fill="#555555"/>
<rect x="792" y="2505" width="2" height="6.5" fill="#0000ff"/>
<rect x="826" y="2008" width="2" height="497" fill="#555555"/>
<rect x="826" y="2505" width="2" height="6.5" fill="#0000ff"/>
<rect x="853" y="2008" width="2" height="497" fill="#555555"/>
<rect x="853" y="2505" width="2" height="6.5" fill="#0000ff"/>
<rect x="875" y="2008" width="2" height="497" fill="#555555"/>
<rect x="875" y="2505" width="2" height="6.5" fill="#0000ff"/>
<rect x="893" y="2008" width="2" height="497" fill="#555555"/>
<rect x="893" y="2505" width="2" height="6.5" fill="#0000ff"/>
<rect x="909" y="2008" width="2" height="497" fill="#555555"/>
<rect x="909" y="2505" width="2" height="6.5" fill="#0000ff"/>
<rect x="923" y="2008" width="2" height="497" fill="#555555"/>
<rect x="923" y="2505" width="2" height="6.5" fill="#0000ff"/>
<rect x="110" y="2124" width="829" height="1" fill="#555555"/>
<rect x="95" y="2124" width="15" height="1" fill="#0000ff"/>
<rect x="110" y="2095" width="829" height="1" fill="#555555"/>
<rect x="95" y="2095" width="15" height="1" fill="#0000ff"/>
<rect x="110" y="2074" width="829" height="1" fill="#555555"/>
<rect x="95" y="2074" width="15" height="1" fill="#0000ff"/>
<rect x="110" y="2058" width="829" height="1" fill="#555555"/>
<rect x="95" y="2058" width="15" height="1" fill="#0000ff"/>
<rect x="110" y="2045" width="829" height="1" fill="#555555"/>
<rect x="95" y="2045" width="15" height="1" fill="#0000ff"/>
<rect x="110" y="2034" width="829" height="1" fill="#555555"/>
<rect x="95" y="2034" width="15" height="1" fill="#0000ff"/>
<rect x="110" y="2024" width="829" height="1" fill="#555555"/>
<rect x="95" y="2024" width="15" height="1" fill="#0000ff"/>
<rect x="110" y="2016" width="829" height="1" fill="#555555"/>
<rect x="95" y="2016" width="15" height="1" fill="#0000ff"/>
<rect x="110" y="2289" width="829" height="1" fill="#555555"/>
<rect x="95" y="2289" width="15" height="1" fill="#0000ff"/>
<rect x="110" y="2260" width="829" height="1" fill="#555555"/>
<rect x="95" y="2260" width="15" height="1" fill="#0000ff"/>
<rect x="110" y="2240" width="829" height="1" fill="#555555"/>
<rect x="95" y="2240" width="15" height="1" fill="#0000ff"/>
<rect x="110" y="2224" width="829" height="1" fill="#555555"/>
<rect x="95" y="2224" width="15" height="1" fill="#0000ff"/>
<rect x="110" y="2211" width="829" height="1" fill="#555555"/>
<rect x="95" y="2211" width="15" height="1" fill="#0000ff"/>
<rect x="110" y="2200" width="829" height="1" fill="#555555"/>
<rect x="95" y="2200" width="15" height="1" fill="#0000ff"/>
<rect x="110" y="2190" width="829" height="1" fill="#555555"/>
<rect x="95" y="2190" width="15" height="1" fill="#0000ff"/>
<rect x="110" y="2182" width="829" height="1" fill="#555555"/>
<rect x="95" y="2182" width="15" height="1" fill="#0000ff"/>
<rect x="110" y="2454" width="829" height="1" fill="#555555"/>
<rect x="95" y="2454" width="15" height="1" fill="#0000ff"/>
<rect x="110" y="2425" width="829" height="1" fill="#555555"/>
<rect x="95" y="2425" width="15" height="1" fill="#0000ff"/>
<rect x="110" y="2405" width="829" height="1" fill="#555555"/>
<rect x="95" y="2405" width="15" height="1" fill="#0000ff"/>
<rect x="110" y="2389" width="829" height="1" fill="#555555"/>
<rect x="95" y="2389" width="15" height="1" fill="#0000ff"/>
<rect x="110" y="2376" width="829" height="1" fill="#555555"/>
<rect x="95" y="2376" width="15" height="1" fill="#0000ff"/>
<rect x="110" y="2365" width="829" height="1" fill="#555555"/>
<rect x="95" y="2365" width="15" height="1" fill="#0000ff"/>
<rect x="110" y="2355" width="829" height="1" fill="#555555"/>
<rect x="95" y="2355" width="15" height="1" fill="#0000ff"/>
<rect x="110" y="2347" width="829" height="1" fill="#555555"/>
<rect x="95" y="2347" width="15" height="1" fill="#0000ff"/>
<path d="M104 2233h12v6h-12zM106 2234v4h8v-4z" fill="#800080" fill-rule="evenodd" shape-rendering="crispEdges"/>
<path d="M135 2238h12v6h-12zM137 2239v4h8v-4z" fill="#800080" fill-rule="evenodd" shape-rendering="crispEdges"/>
<path d="M174 2246h12v6h-12zM176 2247v4h8v-4z" fill="#800080" fill-rule="evenodd" shape-rendering="crispEdges"/>
<path d="M209 2259h12v6h-12zM211 2260v4h8v-4z" fill="#800080" fill-rule="evenodd" shape-rendering="crispEdges"/>
<path d="M243 2282h12v6h-12zM245 2283v4h8v-4z" fill="#800080" fill-rule="evenodd" shape-rendering="crispEdges"/>
<path d="M275 2302h12v6h-12zM277 2303v4h8v-4z" fill="#800080" fill-rule="evenodd" shape-rendering="crispEdges"/>
<path d="M308 2333h12v6h-12zM310 2334v4h8v-4z" fill="#800080" fill-rule="evenodd" shape-rendering="crispEdges"/>
<path d="M345 2347h12v6h-12zM347 2348v4h8v-4z" fill="#800080" fill-rule="evenodd" shape-rendering="crispEdges"/>
<path d="M379 2330h12v6h-12zM381 2331v4h8v-4z" fill="#800080" fill-rule="evenodd" shape-rendering="crispEdges"/>
<path d="M410 2314h12v6h-12zM412 2315v4h8v-4z" fill="#800080" fill-rule="evenodd" shape-rendering="crispEdges"/>
<path d="M449 2288h12v6h-12zM451 2289v4h8v-4z" fill="#800080" fill-rule="evenodd" shape-rendering="crispEdges"/>
<path d="M484 2270h12v6h-12zM486 2271v4h8v-4z" fill="#800080" fill-rule="evenodd" shape-rendering="crispEdges"/>
<path d="M518 2249h12v6h-12zM520 2250v4h8v-4z" fill="#800080" fill-rule="evenodd" shape-rendering="crispEdges"/>
<path d="M551 2227h12v6h-12zM553 2228v4h8v-4z" fill="#800080" fill-rule="evenodd" shape-rendering="crispEdges"/>
<path d="M583 2208h12v6h-12zM585 2209v4h8v-4z" fill="#800080" fill-rule="evenodd" shape-rendering="crispEdges"/>
<path d="M621 2184h12v6h-12zM623 2185v4h8v-4z" fill="#800080" fill-rule="evenodd" shape-rendering="crispEdges"/>
<path d="M655 2169h12v6h-12zM657 2170v4h8v-4z" fill="#800080" fill-rule="evenodd" shape-rendering="crispEdges"/>
<rect x="82" y="2008" width="857" height="1" fill="#0000ff"/>
<rect x="82" y="2174" width="857" height="1" fill="#0000ff"/>
<rect x="82" y="2339" width="857" height="1" fill="#0000ff"/>
<rect x="82" y="2504" width="857" height="1" fill="#0000ff"/>
<rect x="109" y="2008" width="2" height="510" fill="#0000ff"/>
<rect x="384" y="2008" width="2" height="510" fill="#0000ff"/>
<rect x="660" y="2008" width="2" height="510" fill="#0000ff"/>
<rect x="936" y="2008" width="2" height="510" fill="#0000ff"/>
<text class="b" x="380.02" y="1998" font-size="24" letter-spacing="5.86">O-OKAKA</text>
<text class="b" x="549.39" y="1998" font-size="24" letter-spacing="5.23">ESTATE</text>
<clipPath id="kd124"><path d="M28.68 2007.8H83.6V2029.2H43.56V2023.02H38.76V2029.2H36.24V2023.02H28.68z"/></clipPath>
<text class="b" clip-path="url(#kd124)" x="30.68" y="2026.2" dx="1.26 -1.26" font-size="18.4" letter-spacing="2.91"><tspan class="o">1</tspan><tspan class="t">000</tspan></text>
<clipPath id="kd126"><path d="M41.28 2160.6H83.4V2182H56.27V2175.82H51.36V2182H48.84V2175.82H41.28z"/></clipPath>
<text class="b" clip-path="url(#kd126)" x="43.28" y="2179" dx="1.26 -1.26" font-size="18.4" letter-spacing="3.09"><tspan class="o">1</tspan><tspan class="t">00</tspan></text>
<clipPath id="kd128"><path d="M53.38 2326.2H83.4V2347.6H69.16V2341.42H63.46V2347.6H60.94V2341.42H53.38z"/></clipPath>
<text class="b" clip-path="url(#kd128)" x="55.38" y="2344.6" dx="1.26 -1.26" font-size="18.4" letter-spacing="4.3"><tspan class="o">1</tspan><tspan class="t">0</tspan></text>
<clipPath id="kd130"><path d="M66.48 2478.3H81.9V2499.7H80.46V2493.52H76.56V2499.7H74.04V2493.52H66.48z"/></clipPath>
<text class="b" clip-path="url(#kd130)" x="68.48" y="2496.7" dx="1.26" font-size="18.4" letter-spacing="0"><tspan class="o">1</tspan></text>
<clipPath id="kd132"><path d="M112.78 2527.4H129.3V2548.8H126.76V2542.62H122.86V2548.8H120.34V2542.62H112.78z"/></clipPath>
<text class="b" clip-path="url(#kd132)" x="114.78" y="2545.8" dx="1.26" font-size="18.4" letter-spacing="0"><tspan class="o">1</tspan></text>
<clipPath id="kd134"><path d="M370.48 2527.4H401.4V2548.8H386.85V2542.62H380.56V2548.8H378.04V2542.62H370.48z"/></clipPath>
<text class="b" clip-path="url(#kd134)" x="372.48" y="2545.8" dx="1.26 -1.26" font-size="18.4" letter-spacing="5.2"><tspan class="o">1</tspan><tspan class="t">0</tspan></text>
<clipPath id="kd136"><path d="M641.18 2527.4H684.1V2548.8H656.43V2542.62H651.26V2548.8H648.74V2542.62H641.18z"/></clipPath>
<text class="b" clip-path="url(#kd136)" x="643.18" y="2545.8" dx="1.26 -1.26" font-size="18.4" letter-spacing="3.49"><tspan class="o">1</tspan><tspan class="t">00</tspan></text>
<clipPath id="kd138"><path d="M864.78 2527.4H922.3V2548.8H880.22V2542.62H874.86V2548.8H872.34V2542.62H864.78z"/></clipPath>
<text class="b" clip-path="url(#kd138)" x="866.78" y="2545.8" dx="1.26 -1.26" font-size="18.4" letter-spacing="3.78"><tspan class="o">1</tspan><tspan class="t">000</tspan></text>
<text class="b" x="346.05" y="2582.7" font-size="20.2" letter-spacing="2.27">Electrode</text>
<text class="b" x="468.86" y="2582.7" font-size="20.2" letter-spacing="2.27">Spacing</text>
<text class="b" x="573.65" y="2582.7" font-size="20.2" letter-spacing="3.5">(AB/2)</text>
<text class="b" x="665.39" y="2582.7" font-size="20.2" letter-spacing="3.65">(m)</text>
<text class="s" x="461.03" y="2617.35" font-size="15.3" letter-spacing="0.25">(d)</text>
<text class="b" transform="translate(19 2401) rotate(-90) scale(0.92 1)" x="-0.53" y="0" font-size="21.3" letter-spacing="-3.81">Apparent</text>
<text class="b" transform="translate(19 2401) rotate(-90) scale(0.92 1)" x="72.74" y="0" font-size="21.3" letter-spacing="-3.1">Resistivity</text>
<text class="b" transform="translate(19 2401) rotate(-90) scale(0.92 1)" x="152.61" y="0" font-size="21.3" letter-spacing="-2.98">(Ohm-m)</text></g>
<g><path transform="scale(1.5 1)" d="M81.33 2979.5C84.67 2977.15 93.78 2971.95 101.33 2965.4C108.89 2958.85 118.73 2949.4 126.67 2940.2C134.6 2931 141.62 2919.22 148.93 2910.2C156.24 2901.18 163.42 2893.58 170.53 2886.1C177.64 2878.62 184.58 2871.65 191.6 2865.3C198.62 2858.95 205.16 2853.88 212.67 2848C220.18 2842.12 229.04 2834.92 236.67 2830C244.29 2825.08 251.4 2822.55 258.4 2818.5C265.4 2814.45 271.07 2809.03 278.67 2805.7C286.27 2802.37 296.11 2799.9 304 2798.5C311.89 2797.1 318.67 2797.17 326 2797.3C333.33 2797.43 340.78 2797.63 348 2799.3C355.22 2800.97 362.33 2804.08 369.33 2807.3C376.33 2810.52 382.59 2815.25 390 2818.6C397.41 2821.95 409.83 2825.93 413.8 2827.4" fill="none" stroke="#800080" stroke-width="1" shape-rendering="crispEdges"/>
<path transform="scale(1.5 1)" d="M413.8 2827.4L436 2819.4" fill="none" stroke="#800080" stroke-width="1" shape-rendering="crispEdges"/>
<rect x="201" y="2667" width="2" height="478" fill="#555555"/>
<rect x="201" y="3145" width="2" height="6" fill="#0000ff"/>
<rect x="248" y="2667" width="2" height="478" fill="#555555"/>
<rect x="248" y="3145" width="2" height="6" fill="#0000ff"/>
<rect x="281" y="2667" width="2" height="478" fill="#555555"/>
<rect x="281" y="3145" width="2" height="6" fill="#0000ff"/>
<rect x="307" y="2667" width="2" height="478" fill="#555555"/>
<rect x="307" y="3145" width="2" height="6" fill="#0000ff"/>
<rect x="328" y="2667" width="2" height="478" fill="#555555"/>
<rect x="328" y="3145" width="2" height="6" fill="#0000ff"/>
<rect x="346" y="2667" width="2" height="478" fill="#555555"/>
<rect x="346" y="3145" width="2" height="6" fill="#0000ff"/>
<rect x="361" y="2667" width="2" height="478" fill="#555555"/>
<rect x="361" y="3145" width="2" height="6" fill="#0000ff"/>
<rect x="375" y="2667" width="2" height="478" fill="#555555"/>
<rect x="375" y="3145" width="2" height="6" fill="#0000ff"/>
<rect x="467" y="2667" width="2" height="478" fill="#555555"/>
<rect x="467" y="3145" width="2" height="6" fill="#0000ff"/>
<rect x="514" y="2667" width="2" height="478" fill="#555555"/>
<rect x="514" y="3145" width="2" height="6" fill="#0000ff"/>
<rect x="547" y="2667" width="2" height="478" fill="#555555"/>
<rect x="547" y="3145" width="2" height="6" fill="#0000ff"/>
<rect x="573" y="2667" width="2" height="478" fill="#555555"/>
<rect x="573" y="3145" width="2" height="6" fill="#0000ff"/>
<rect x="594" y="2667" width="2" height="478" fill="#555555"/>
<rect x="594" y="3145" width="2" height="6" fill="#0000ff"/>
<rect x="612" y="2667" width="2" height="478" fill="#555555"/>
<rect x="612" y="3145" width="2" height="6" fill="#0000ff"/>
<rect x="628" y="2667" width="2" height="478" fill="#555555"/>
<rect x="628" y="3145" width="2" height="6" fill="#0000ff"/>
<rect x="641" y="2667" width="2" height="478" fill="#555555"/>
<rect x="641" y="3145" width="2" height="6" fill="#0000ff"/>
<rect x="734" y="2667" width="2" height="478" fill="#555555"/>
<rect x="734" y="3145" width="2" height="6" fill="#0000ff"/>
<rect x="780" y="2667" width="2" height="478" fill="#555555"/>
<rect x="780" y="3145" width="2" height="6" fill="#0000ff"/>
<rect x="814" y="2667" width="2" height="478" fill="#555555"/>
<rect x="814" y="3145" width="2" height="6" fill="#0000ff"/>
<rect x="839" y="2667" width="2" height="478" fill="#555555"/>
<rect x="839" y="3145" width="2" height="6" fill="#0000ff"/>
<rect x="861" y="2667" width="2" height="478" fill="#555555"/>
<rect x="861" y="3145" width="2" height="6" fill="#0000ff"/>
<rect x="878" y="2667" width="2" height="478" fill="#555555"/>
<rect x="878" y="3145" width="2" height="6" fill="#0000ff"/>
<rect x="894" y="2667" width="2" height="478" fill="#555555"/>
<rect x="894" y="3145" width="2" height="6" fill="#0000ff"/>
<rect x="907" y="2667" width="2" height="478" fill="#555555"/>
<rect x="907" y="3145" width="2" height="6" fill="#0000ff"/>
<rect x="122" y="2834" width="801" height="1" fill="#555555"/>
<rect x="108" y="2834" width="14" height="1" fill="#0000ff"/>
<rect x="122" y="2792" width="801" height="1" fill="#555555"/>
<rect x="108" y="2792" width="14" height="1" fill="#0000ff"/>
<rect x="122" y="2762" width="801" height="1" fill="#555555"/>
<rect x="108" y="2762" width="14" height="1" fill="#0000ff"/>
<rect x="122" y="2739" width="801" height="1" fill="#555555"/>
<rect x="108" y="2739" width="14" height="1" fill="#0000ff"/>
<rect x="122" y="2720" width="801" height="1" fill="#555555"/>
<rect x="108" y="2720" width="14" height="1" fill="#0000ff"/>
<rect x="122" y="2704" width="801" height="1" fill="#555555"/>
<rect x="108" y="2704" width="14" height="1" fill="#0000ff"/>
<rect x="122" y="2690" width="801" height="1" fill="#555555"/>
<rect x="108" y="2690" width="14" height="1" fill="#0000ff"/>
<rect x="122" y="2678" width="801" height="1" fill="#555555"/>
<rect x="108" y="2678" width="14" height="1" fill="#0000ff"/>
<rect x="122" y="3073" width="801" height="1" fill="#555555"/>
<rect x="108" y="3073" width="14" height="1" fill="#0000ff"/>
<rect x="122" y="3031" width="801" height="1" fill="#555555"/>
<rect x="108" y="3031" width="14" height="1" fill="#0000ff"/>
<rect x="122" y="3001" width="801" height="1" fill="#555555"/>
<rect x="108" y="3001" width="14" height="1" fill="#0000ff"/>
<rect x="122" y="2978" width="801" height="1" fill="#555555"/>
<rect x="108" y="2978" width="14" height="1" fill="#0000ff"/>
<rect x="122" y="2959" width="801" height="1" fill="#555555"/>
<rect x="108" y="2959" width="14" height="1" fill="#0000ff"/>
<rect x="122" y="2943" width="801" height="1" fill="#555555"/>
<rect x="108" y="2943" width="14" height="1" fill="#0000ff"/>
<rect x="122" y="2929" width="801" height="1" fill="#555555"/>
<rect x="108" y="2929" width="14" height="1" fill="#0000ff"/>
<rect x="122" y="2917" width="801" height="1" fill="#555555"/>
<rect x="108" y="2917" width="14" height="1" fill="#0000ff"/>
<path d="M116 2982h12v6h-12zM118 2983v4h8v-4z" fill="#800080" fill-rule="evenodd" shape-rendering="crispEdges"/>
<path d="M146 2958h12v6h-12zM148 2959v4h8v-4z" fill="#800080" fill-rule="evenodd" shape-rendering="crispEdges"/>
<path d="M184 2933h12v6h-12zM186 2934v4h8v-4z" fill="#800080" fill-rule="evenodd" shape-rendering="crispEdges"/>
<path d="M217 2906h12v6h-12zM219 2907v4h8v-4z" fill="#800080" fill-rule="evenodd" shape-rendering="crispEdges"/>
<path d="M250 2886h12v6h-12zM252 2887v4h8v-4z" fill="#800080" fill-rule="evenodd" shape-rendering="crispEdges"/>
<path d="M282 2864h12v6h-12zM284 2865v4h8v-4z" fill="#800080" fill-rule="evenodd" shape-rendering="crispEdges"/>
<path d="M313 2848h12v6h-12zM315 2849v4h8v-4z" fill="#800080" fill-rule="evenodd" shape-rendering="crispEdges"/>
<path d="M349 2827h12v6h-12zM351 2828v4h8v-4z" fill="#800080" fill-rule="evenodd" shape-rendering="crispEdges"/>
<path d="M382 2815h12v6h-12zM384 2816v4h8v-4z" fill="#800080" fill-rule="evenodd" shape-rendering="crispEdges"/>
<path d="M413 2805h12v6h-12zM415 2806v4h8v-4z" fill="#800080" fill-rule="evenodd" shape-rendering="crispEdges"/>
<path d="M450 2797h12v6h-12zM452 2798v4h8v-4z" fill="#800080" fill-rule="evenodd" shape-rendering="crispEdges"/>
<path d="M483 2792h12v6h-12zM485 2793v4h8v-4z" fill="#800080" fill-rule="evenodd" shape-rendering="crispEdges"/>
<path d="M517 2794h12v6h-12zM519 2795v4h8v-4z" fill="#800080" fill-rule="evenodd" shape-rendering="crispEdges"/>
<path d="M548 2801h12v6h-12zM550 2802v4h8v-4z" fill="#800080" fill-rule="evenodd" shape-rendering="crispEdges"/>
<path d="M579 2820h12v6h-12zM581 2821v4h8v-4z" fill="#800080" fill-rule="evenodd" shape-rendering="crispEdges"/>
<path d="M615 2828h12v6h-12zM617 2829v4h8v-4z" fill="#800080" fill-rule="evenodd" shape-rendering="crispEdges"/>
<path d="M648 2814h12v6h-12zM650 2815v4h8v-4z" fill="#800080" fill-rule="evenodd" shape-rendering="crispEdges"/>
<rect x="95" y="2667" width="828" height="1" fill="#0000ff"/>
<rect x="95" y="2906" width="828" height="1" fill="#0000ff"/>
<rect x="95" y="3144" width="828" height="1" fill="#0000ff"/>
<rect x="121" y="2667" width="2" height="490" fill="#0000ff"/>
<rect x="387" y="2667" width="2" height="490" fill="#0000ff"/>
<rect x="653" y="2667" width="2" height="490" fill="#0000ff"/>
<rect x="920" y="2667" width="2" height="490" fill="#0000ff"/>
<text class="b" x="442.72" y="2656.3" font-size="24" letter-spacing="4.42">O-FAMBGE</text>
<clipPath id="ke107"><path d="M44.92 2666.6H96.9V2687H59.03V2680.92H54.56V2687H52.17V2680.92H44.92z"/></clipPath>
<text class="b" clip-path="url(#ke107)" x="46.92" y="2684" dx="1.19 -1.19" font-size="17.4" letter-spacing="2.66"><tspan class="o">1</tspan><tspan class="t">000</tspan></text>
<clipPath id="ke109"><path d="M55.82 2894.1H96.5V2914.5H70.27V2908.42H65.46V2914.5H63.07V2908.42H55.82z"/></clipPath>
<text class="b" clip-path="url(#ke109)" x="57.82" y="2911.5" dx="1.19 -1.19" font-size="17.4" letter-spacing="3.18"><tspan class="o">1</tspan><tspan class="t">00</tspan></text>
<clipPath id="ke111"><path d="M67.62 3120.6H96V3141H82.43V3134.92H77.26V3141H74.87V3134.92H67.62z"/></clipPath>
<text class="b" clip-path="url(#ke111)" x="69.62" y="3138" dx="1.19 -1.19" font-size="17.4" letter-spacing="3.74"><tspan class="o">1</tspan><tspan class="t">0</tspan></text>
<clipPath id="ke113"><path d="M125.62 3166.4H141V3186.8H139V3180.72H135.26V3186.8H132.87V3180.72H125.62z"/></clipPath>
<text class="b" clip-path="url(#ke113)" x="127.62" y="3183.8" dx="1.19" font-size="17.4" letter-spacing="0"><tspan class="o">1</tspan></text>
<clipPath id="ke115"><path d="M374.12 3166.4H404V3186.8H389.91V3180.72H383.76V3186.8H381.37V3180.72H374.12z"/></clipPath>
<text class="b" clip-path="url(#ke115)" x="376.12" y="3183.8" dx="1.19 -1.19" font-size="17.4" letter-spacing="5.24"><tspan class="o">1</tspan><tspan class="t">0</tspan></text>
<clipPath id="ke117"><path d="M634.62 3166.4H675.6V3186.8H649.17V3180.72H644.26V3186.8H641.87V3180.72H634.62z"/></clipPath>
<text class="b" clip-path="url(#ke117)" x="636.62" y="3183.8" dx="1.19 -1.19" font-size="17.4" letter-spacing="3.33"><tspan class="o">1</tspan><tspan class="t">00</tspan></text>
<clipPath id="ke119"><path d="M850.22 3166.4H905.8V3186.8H865.11V3180.72H859.86V3186.8H857.47V3180.72H850.22z"/></clipPath>
<text class="b" clip-path="url(#ke119)" x="852.22" y="3183.8" dx="1.19 -1.19" font-size="17.4" letter-spacing="3.86"><tspan class="o">1</tspan><tspan class="t">000</tspan></text>
<text class="b" x="349.73" y="3219.9" font-size="19" letter-spacing="2.49">Electrode</text>
<text class="b" x="468.48" y="3219.9" font-size="19" letter-spacing="2.54">Spacing</text>
<text class="b" x="569.84" y="3219.9" font-size="19" letter-spacing="3.69">(AB/2)</text>
<text class="b" x="658.55" y="3219.9" font-size="19" letter-spacing="3.92">(m)</text>
<text class="s" x="461.03" y="3256.65" font-size="15.3" letter-spacing="0.23">(e)</text>
<text class="b" transform="translate(34.3 3045.1) rotate(-90) scale(0.9 1)" x="-0.52" y="0" font-size="20.8" letter-spacing="-3.64">Apparent</text>
<text class="b" transform="translate(34.3 3045.1) rotate(-90) scale(0.9 1)" x="71.68" y="0" font-size="20.8" letter-spacing="-2.96">Resistivity</text>
<text class="b" transform="translate(34.3 3045.1) rotate(-90) scale(0.9 1)" x="150.37" y="0" font-size="20.8" letter-spacing="-2.81">(Ohm-m)</text></g>
</svg>
</body></html>
